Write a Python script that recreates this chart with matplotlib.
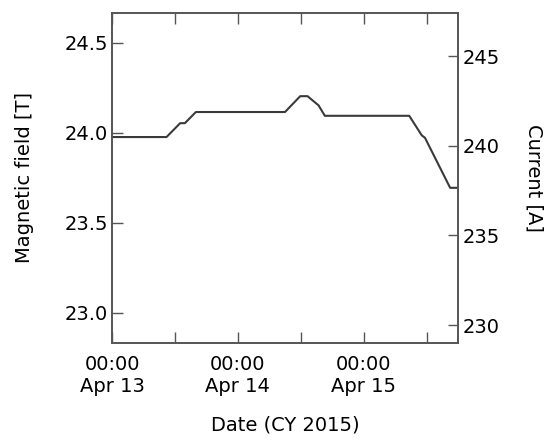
import matplotlib
matplotlib.use("Agg")
import matplotlib.pyplot as plt
import matplotlib.dates as mdates
import numpy as np
import pandas as pd

# magnetic field readback, hours since Apr 13 00:00
hours = [0.0, 10.4, 13.0, 13.9, 16.0, 33.0, 35.9, 37.3, 39.4, 40.6,
         56.7, 59.1, 59.7, 64.5, 66.0]
field = [23.976, 23.976, 24.053, 24.053, 24.115, 24.115, 24.203, 24.203,
         24.152, 24.094, 24.094, 23.985, 23.972, 23.694, 23.694]

start = pd.Timestamp("2015-04-13 00:00")
end = pd.Timestamp("2015-04-15 18:00")
times = [start + pd.Timedelta(hours=h) for h in hours]

fs = 14
spine_col = "#555555"

fig = plt.figure(figsize=(5.52, 4.44), dpi=100)
ax = fig.add_axes([0.2029, 0.2275, 0.6268, 0.7432])
ax.plot(times, field, color="#3a3a3a", lw=1.5)

ax.set_xlim(start, end)
ax.set_ylim(22.832, 24.665)
ax.set_yticks([23.0, 23.5, 24.0, 24.5])
ax.yaxis.set_major_formatter(matplotlib.ticker.FormatStrFormatter("%.1f"))

ax.xaxis.set_major_locator(mdates.HourLocator(byhour=[0]))
ax.xaxis.set_minor_locator(mdates.HourLocator(byhour=[12]))
ax.xaxis.set_major_formatter(mdates.DateFormatter("%H:%M\n%b %d"))

ax.set_ylabel("Magnetic field [T]", fontsize=fs, labelpad=22)
ax.set_xlabel("Date (CY 2015)", fontsize=fs, labelpad=14)

ax.tick_params(axis="both", which="both", direction="in", length=8,
               width=1, color=spine_col, labelsize=fs, top=True)
ax.tick_params(axis="x", which="major", pad=9)
ax.tick_params(axis="y", right=False, pad=3)
for s in ax.spines.values():
    s.set_color(spine_col)
    s.set_linewidth(1.2)

ax2 = ax.twinx()
ax2.set_ylim(229.0, 247.4)
ax2.set_yticks([230, 235, 240, 245])
ax2.tick_params(axis="y", direction="in", length=7, width=1,
                color=spine_col, labelsize=fs, pad=3)
ax2.set_ylabel("Current [A]", fontsize=fs, rotation=270, labelpad=32)
for s in ax2.spines.values():
    s.set_color(spine_col)
    s.set_linewidth(1.2)

fig.savefig("out.png", dpi=100)
